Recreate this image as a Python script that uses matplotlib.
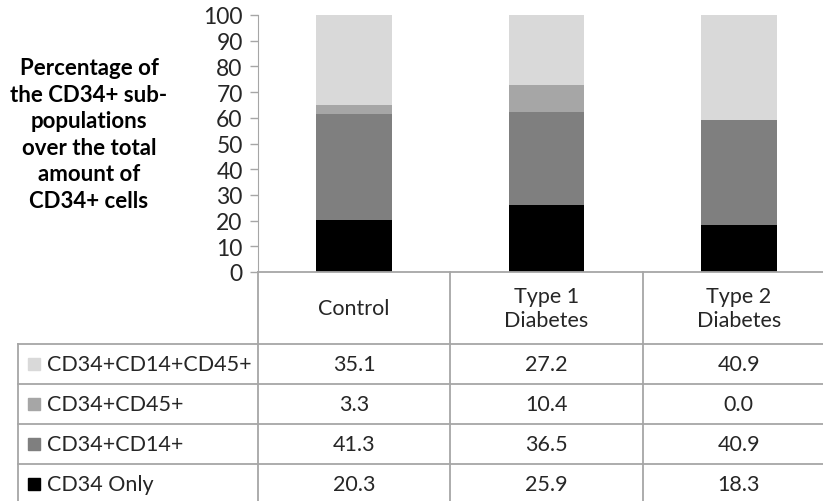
import matplotlib.pyplot as plt
import numpy as np

plt.rcParams['font.family'] = ['Lato', 'DejaVu Sans']

groups = ["Control", "Type 1\nDiabetes", "Type 2\nDiabetes"]
# stacked from the bottom up
series = ["CD34 Only", "CD34+CD14+", "CD34+CD45+", "CD34+CD14+CD45+"]
cd34_only = [20.3, 25.9, 18.3]
cd34_cd14 = [41.3, 36.5, 40.9]
cd34_cd45 = [3.3, 10.4, 0.0]
cd34_cd14_cd45 = [35.1, 27.2, 40.9]
colors = ["#000000", "#7f7f7f", "#a6a6a6", "#d9d9d9"]
yticks = list(range(0, 101, 10))

W, H = 823, 502
fig = plt.figure(figsize=(W / 100, H / 100), dpi=100)

grid = "#a6a6a6"
txt = "#262626"
fs = 15.5

# plot area in pixels
x0, x1 = 258, 835
y_top, y_zero = 16, 273
col_w = (x1 - x0) / 3

ax = fig.add_axes([x0 / W, 1 - y_zero / H, (x1 - x0) / W, (y_zero - y_top) / H])
ax.set_xlim(0, 3)
ax.set_ylim(0, 100)
pos = np.arange(3) + 0.5
values = [cd34_only, cd34_cd14, cd34_cd45, cd34_cd14_cd45]
bottom = np.zeros(3)
for vals, c in zip(values, colors):
    ax.bar(pos, vals, width=0.395, bottom=bottom, color=c, clip_on=False)
    bottom += np.array(vals)

ax.set_yticks(yticks)
ax.set_yticklabels([str(t) for t in yticks], fontsize=16.5, color=txt)
ax.tick_params(axis='y', direction='out', length=6, width=1, color=grid, pad=5)
ax.set_xticks([])
for s in ['top', 'right', 'bottom']:
    ax.spines[s].set_visible(False)
ax.spines['left'].set_color(grid)

fig.text(89 / W, 1 - 135 / H,
         "Percentage of\nthe CD34+ sub-\npopulations\nover the total\namount of\nCD34+ cells",
         ha='center', va='center', fontsize=16, fontweight='bold',
         linespacing=1.33, color='black')

# data table underneath, drawn on an overlay in pixel coordinates
tab = fig.add_axes([0, 0, 1, 1])
tab.set_xlim(0, W)
tab.set_ylim(H, 0)
tab.axis('off')

row_edges = [273, 345, 385, 425, 465, 505]
left = 18
col_edges = [x0 + i * col_w for i in range(4)]

tab.plot([x0, x1], [row_edges[0]] * 2, color=grid, lw=1.3, clip_on=False)
for y in row_edges[1:]:
    tab.plot([left, x1], [y, y], color=grid, lw=1.3)
tab.plot([left, left], [row_edges[1], H], color=grid, lw=1.3)
for x in col_edges:
    tab.plot([x, x], [row_edges[0], H], color=grid, lw=1.3)

hdr_y = (row_edges[0] + row_edges[1]) / 2
for i, g in enumerate(groups):
    tab.text(x0 + (i + 0.5) * col_w, hdr_y, g, ha='center', va='center',
             fontsize=fs, color=txt, linespacing=1.3)

rows = list(zip(series, values, colors))[::-1]
for r, (name, vals, c) in enumerate(rows):
    cy = (row_edges[r + 1] + row_edges[r + 2]) / 2
    tab.add_patch(plt.Rectangle((28, cy - 6.5), 12.5, 12.5, color=c))
    tab.text(47, cy, name, ha='left', va='center', fontsize=fs, color=txt)
    for i, v in enumerate(vals):
        tab.text(x0 + (i + 0.5) * col_w, cy, f"{v:.1f}", ha='center',
                 va='center', fontsize=fs, color=txt)

fig.savefig("out.png", dpi=100)
